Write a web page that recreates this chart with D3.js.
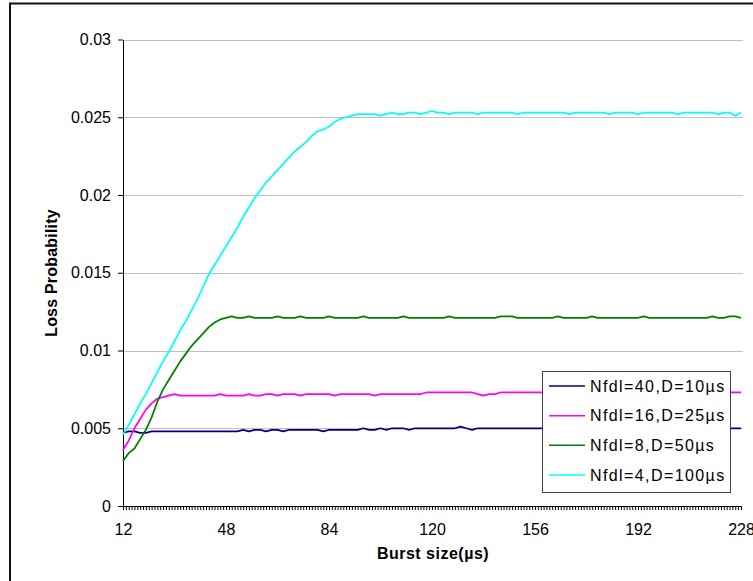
<!DOCTYPE html>
<html>
<head>
<meta charset="utf-8">
<script src="https://cdn.jsdelivr.net/npm/d3@7"></script>
<style>
  html, body { margin: 0; padding: 0; background: #fff; }
  svg { display: block; }
  text { font-family: "Liberation Sans", Arial, sans-serif; }
</style>
</head>
<body>
<svg id="chart" width="753" height="581"></svg>
<script>
// ---------- DATA ----------
const burstSizes = [12,14,16,18,20,22,24,26,28,30,32,34,36,38,40,42,44,46,48,50,52,54,56,58,60,62,64,66,68,70,72,74,76,78,80,82,84,86,88,90,92,94,96,98,100,102,104,106,108,110,112,114,116,118,120,122,124,126,128,130,132,134,136,138,140,142,144,146,148,150,152,154,156,158,160,162,164,166,168,170,172,174,176,178,180,182,184,186,188,190,192,194,196,198,200,202,204,206,208,210,212,214,216,218,220,222,224,226,228];

const xTickLabels = ["12","48","84","120","156","192","228"];
const yTickValues = [0, 0.005, 0.01, 0.015, 0.02, 0.025, 0.03];
const yTickLabels = ["0","0.005","0.01","0.015","0.02","0.025","0.03"];

const seriesNames = ["Nfdl=40,D=10µs","Nfdl=16,D=25µs","Nfdl=8,D=50µs","Nfdl=4,D=100µs"];
const seriesColors = ["#000080","#ff00ff","#008000","#00ffff"];

const nfdl40 = [0.0047,0.0048,0.0048,0.0047,0.0047,0.0048,0.0048,0.0048,0.0048,0.0048,0.0048,0.0048,0.0048,0.0048,0.0048,0.0048,0.0048,0.0048,0.0048,0.0048,0.0048,0.0049,0.0048,0.0049,0.0049,0.0048,0.0049,0.0049,0.0048,0.0049,0.0049,0.0049,0.0049,0.0049,0.0049,0.0048,0.0049,0.0049,0.0049,0.0049,0.0049,0.0049,0.0050,0.0049,0.0049,0.0050,0.0049,0.0050,0.0050,0.0050,0.0049,0.0050,0.0050,0.0050,0.0050,0.0050,0.0050,0.0050,0.0050,0.0051,0.0050,0.0049,0.0050,0.0050,0.0050,0.0050,0.0050,0.0050,0.0050,0.0050,0.0050,0.0050,0.0050,0.0050,0.0050,0.0050,0.0050,0.0050,0.0050,0.0050,0.0050,0.0050,0.0050,0.0050,0.0050,0.0050,0.0050,0.0050,0.0050,0.0050,0.0050,0.0050,0.0050,0.0050,0.0050,0.0050,0.0050,0.0050,0.0050,0.0050,0.0050,0.0050,0.0050,0.0050,0.0050,0.0050,0.0050,0.0050,0.0050];

const nfdl16 = [0.0036,0.0042,0.0050,0.0056,0.0062,0.0066,0.0069,0.0070,0.0071,0.0072,0.0071,0.0071,0.0071,0.0071,0.0071,0.0071,0.0071,0.0072,0.0071,0.0071,0.0071,0.0071,0.0072,0.0071,0.0071,0.0072,0.0072,0.0071,0.0072,0.0072,0.0072,0.0071,0.0072,0.0072,0.0072,0.0072,0.0072,0.0071,0.0072,0.0072,0.0072,0.0072,0.0072,0.0072,0.0071,0.0072,0.0072,0.0072,0.0072,0.0072,0.0072,0.0072,0.0072,0.0073,0.0073,0.0073,0.0073,0.0073,0.0073,0.0073,0.0073,0.0073,0.0072,0.0071,0.0072,0.0072,0.0073,0.0073,0.0073,0.0073,0.0073,0.0073,0.0073,0.0073,0.0073,0.0073,0.0073,0.0073,0.0073,0.0073,0.0073,0.0073,0.0073,0.0073,0.0073,0.0073,0.0073,0.0073,0.0073,0.0073,0.0073,0.0073,0.0073,0.0073,0.0073,0.0073,0.0073,0.0073,0.0073,0.0073,0.0073,0.0073,0.0073,0.0073,0.0073,0.0073,0.0073,0.0073,0.0073];

const nfdl8 = [0.0029,0.0034,0.0037,0.0043,0.0049,0.0057,0.0067,0.0075,0.0081,0.0087,0.0093,0.0098,0.0103,0.0107,0.0111,0.0115,0.0118,0.0120,0.0121,0.0122,0.0121,0.0121,0.0122,0.0121,0.0121,0.0121,0.0121,0.0122,0.0121,0.0121,0.0121,0.0122,0.0121,0.0121,0.0121,0.0121,0.0122,0.0121,0.0121,0.0121,0.0121,0.0121,0.0122,0.0121,0.0121,0.0121,0.0121,0.0121,0.0121,0.0122,0.0121,0.0121,0.0121,0.0121,0.0121,0.0121,0.0121,0.0122,0.0121,0.0121,0.0121,0.0121,0.0121,0.0121,0.0121,0.0121,0.0122,0.0122,0.0122,0.0121,0.0121,0.0121,0.0121,0.0121,0.0121,0.0121,0.0122,0.0121,0.0121,0.0121,0.0121,0.0121,0.0122,0.0121,0.0121,0.0121,0.0121,0.0121,0.0121,0.0121,0.0121,0.0122,0.0121,0.0121,0.0121,0.0121,0.0121,0.0121,0.0121,0.0121,0.0121,0.0121,0.0121,0.0122,0.0121,0.0121,0.0122,0.0122,0.0121];

const nfdl4 = [0.0046,0.0052,0.0059,0.0066,0.0072,0.0079,0.0086,0.0093,0.0099,0.0106,0.0113,0.0119,0.0126,0.0133,0.0141,0.0149,0.0155,0.0161,0.0167,0.0173,0.0179,0.0186,0.0192,0.0198,0.0203,0.0208,0.0212,0.0216,0.0220,0.0224,0.0228,0.0231,0.0234,0.0238,0.0241,0.0242,0.0244,0.0247,0.0249,0.0250,0.0251,0.0252,0.0252,0.0252,0.0252,0.0251,0.0252,0.0253,0.0252,0.0252,0.0253,0.0253,0.0252,0.0253,0.0254,0.0253,0.0253,0.0252,0.0253,0.0253,0.0253,0.0253,0.0252,0.0253,0.0253,0.0253,0.0253,0.0253,0.0253,0.0252,0.0253,0.0253,0.0253,0.0253,0.0253,0.0253,0.0253,0.0253,0.0252,0.0253,0.0253,0.0253,0.0253,0.0253,0.0253,0.0252,0.0253,0.0253,0.0253,0.0253,0.0252,0.0253,0.0253,0.0253,0.0253,0.0253,0.0253,0.0252,0.0253,0.0253,0.0253,0.0253,0.0253,0.0253,0.0252,0.0253,0.0253,0.0251,0.0253];

const allSeries = [nfdl40, nfdl16, nfdl8, nfdl4];

// ---------- CHART ----------
const svg = d3.select("#chart");
const FONT = "'Liberation Sans', Arial, sans-serif";

// outer chart border
svg.append("rect").attr("x", 10).attr("y", 3.5).attr("width", 800).attr("height", 700)
  .attr("fill", "#fff").attr("stroke", "#111").attr("stroke-width", 2);

const x = d3.scaleLinear().domain([12, 228]).range([123, 741]);
const y = d3.scaleLinear().domain([0, 0.03]).range([506, 39.5]);

// gridlines
svg.append("g").selectAll("line")
  .data(yTickValues.filter(d => d > 0))
  .join("line")
  .attr("x1", 123).attr("x2", 743)
  .attr("y1", d => Math.round(y(d)) + 0.5).attr("y2", d => Math.round(y(d)) + 0.5)
  .attr("stroke", "#c0c0c0").attr("stroke-width", 1);

// minor category ticks (one per µs)
const categories = d3.range(12, 229);

// X axis
const xAxis = d3.axisBottom(x)
  .tickValues(categories)
  .tickSize(4)
  .tickSizeOuter(0)
  .tickPadding(14)
  .tickFormat(d => { const s = String(d); return xTickLabels.includes(s) ? s : ""; });
const gx = svg.append("g").attr("transform", "translate(0,506)").call(xAxis);
gx.select(".domain").attr("stroke", "#000");
gx.selectAll(".tick line").attr("stroke", "#000");
gx.selectAll("text").attr("font-size", 16).attr("font-family", FONT).attr("fill", "#000");

// Y axis
const yAxis = d3.axisLeft(y)
  .tickValues(yTickValues)
  .tickSize(5)
  .tickSizeOuter(0)
  .tickPadding(7)
  .tickFormat((d, i) => yTickLabels[i]);
const gy = svg.append("g").attr("transform", "translate(123,0)").call(yAxis);
gy.select(".domain").attr("stroke", "#000");
gy.selectAll(".tick line").attr("stroke", "#000");
gy.selectAll("text").attr("font-size", 16).attr("font-family", FONT).attr("fill", "#000");

// lines
const line = d3.line()
  .x((d, i) => x(burstSizes[i]))
  .y(d => y(d));

svg.append("g").selectAll("path")
  .data(allSeries)
  .join("path")
  .attr("d", d => line(d))
  .attr("fill", "none")
  .attr("stroke", (d, i) => seriesColors[i])
  .attr("stroke-width", 1.75)
  .attr("stroke-linejoin", "round");

// axis titles
svg.append("text")
  .attr("x", 433).attr("y", 559)
  .attr("text-anchor", "middle")
  .attr("font-size", 16).attr("font-weight", "bold")
  .attr("letter-spacing", 0.5)
  .attr("font-family", FONT)
  .text("Burst size(µs)");

svg.append("text")
  .attr("transform", "translate(57,273) rotate(-90)")
  .attr("text-anchor", "middle")
  .attr("font-size", 16).attr("font-weight", "bold")
  .attr("letter-spacing", 0.2)
  .attr("font-family", FONT)
  .text("Loss Probability");

// legend
const legend = svg.append("g");
legend.append("rect")
  .attr("x", 542.5).attr("y", 371.5).attr("width", 188).attr("height", 121)
  .attr("fill", "#fff").attr("stroke", "#404040").attr("stroke-width", 1);

const rowY = d3.scalePoint().domain(seriesNames).range([386, 475]);
const items = legend.selectAll("g.item").data(seriesNames).join("g").attr("class", "item");
items.append("line")
  .attr("x1", 549).attr("x2", 585)
  .attr("y1", d => rowY(d)).attr("y2", d => rowY(d))
  .attr("stroke", (d, i) => seriesColors[i]).attr("stroke-width", 1.5);
items.append("text")
  .attr("x", 590).attr("y", d => rowY(d))
  .attr("dy", "0.36em")
  .attr("font-size", 16)
  .attr("letter-spacing", 1.4)
  .attr("font-family", FONT)
  .text(d => d);
</script>
</body>
</html>
